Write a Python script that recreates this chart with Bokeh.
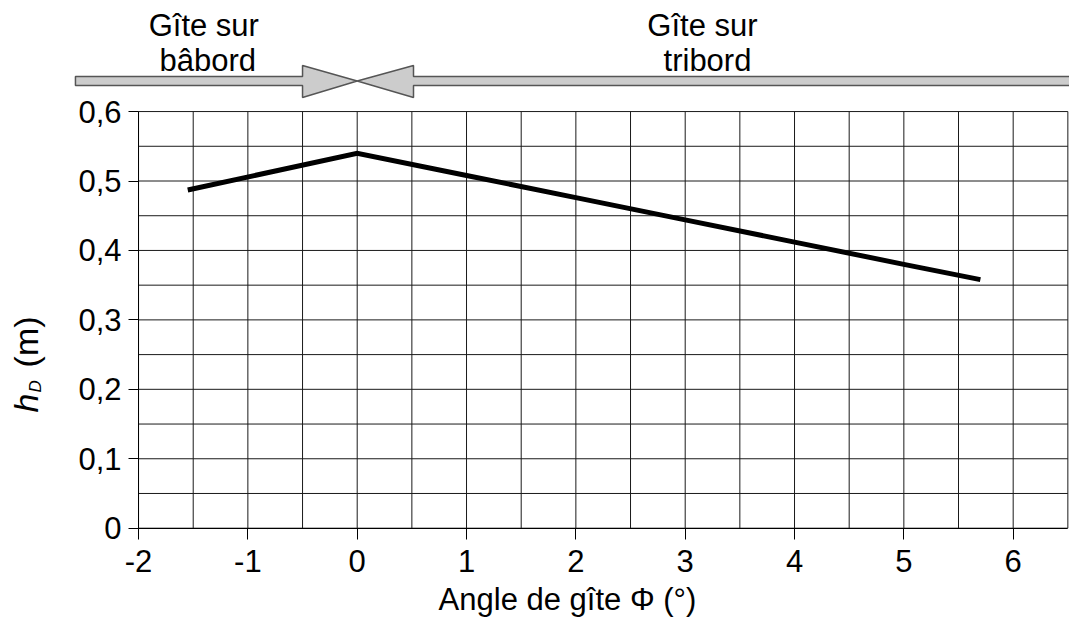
import math
from bokeh.plotting import figure
from bokeh.models import Range1d, FixedTicker
from bokeh.core.properties import value
from bokeh.embed import file_html
from bokeh.resources import INLINE

# ---- data ----
angle = [-1.55, 0.0, 1.0, 2.0, 3.0, 4.0, 5.0, 5.7]
h_D = [0.487, 0.540, 0.508, 0.476, 0.444, 0.412, 0.380, 0.358]

x_ticks = [-2, -1, 0, 1, 2, 3, 4, 5, 6]
x_tick_labels = ["-2", "-1", "0", "1", "2", "3", "4", "5", "6"]
y_ticks = [0, 0.1, 0.2, 0.3, 0.4, 0.5, 0.6]
y_tick_labels = ["0", "0,1", "0,2", "0,3", "0,4", "0,5", "0,6"]
x_grid = [-2, -1.5, -1, -0.5, 0, 0.5, 1, 1.5, 2, 2.5, 3, 3.5, 4, 4.5, 5, 5.5, 6, 6.5]
y_grid = [0, 0.05, 0.1, 0.15, 0.2, 0.25, 0.3, 0.35, 0.4, 0.45, 0.5, 0.55, 0.6]
x_limits = [-2, 6.5]
y_limits = [0, 0.6]

x_title = "Angle de gîte Φ (°)"
port_lines = ["Gîte sur", "bâbord"]
stbd_lines = ["Gîte sur", "tribord"]

FONT = "Liberation Sans"
W, H = 1069, 641
# page geometry of the data frame (pixels)
PX0, PXU = 356.7, 109.33   # x pixel of angle 0, pixels per degree
PY0, PYU = 527.7, 694.4    # y pixel of h=0, pixels per metre

x_range = Range1d(-PX0 / PXU, (W - PX0) / PXU)
y_range = Range1d(-(H - PY0) / PYU, PY0 / PYU)

p = figure(width=W, height=H, x_range=x_range, y_range=y_range, title=None,
           output_backend="svg", toolbar_location=None,
           min_border=0, min_border_left=0, min_border_right=0,
           min_border_top=0, min_border_bottom=0)
p.background_fill_color = "white"
p.border_fill_color = "white"
p.outline_line_color = None
p.xgrid.visible = False
p.ygrid.visible = False

# grid, limited to the chart area
p.segment(x0=x_grid, y0=[y_limits[0]] * len(x_grid), x1=x_grid, y1=[y_limits[1]] * len(x_grid),
          line_color="#1a1a1a", line_width=1)
p.segment(x0=[x_limits[0]] * len(y_grid), y0=y_grid, x1=[x_limits[1]] * len(y_grid), y1=y_grid,
          line_color="#1a1a1a", line_width=1)

# axes at fixed locations
p.xaxis.fixed_location = y_limits[0]
p.yaxis.fixed_location = x_limits[0]
p.xaxis.bounds = tuple(x_limits)
p.yaxis.bounds = tuple(y_limits)
p.xaxis.ticker = FixedTicker(ticks=x_ticks)
p.xaxis.major_label_overrides = {t_: l for t_, l in zip(x_ticks, x_tick_labels)}
p.yaxis.ticker = FixedTicker(ticks=y_ticks)
p.yaxis.major_label_overrides = {t_: l for t_, l in zip(y_ticks, y_tick_labels)}
for ax in (p.xaxis, p.yaxis):
    ax.axis_line_color = "black"
    ax.axis_line_width = 1
    ax.major_tick_line_color = "black"
    ax.major_tick_in = 0
    ax.minor_tick_in = 0
    ax.minor_tick_out = 0
    ax.major_label_text_font = FONT
    ax.major_label_text_font_size = "31px"
    ax.major_label_text_color = "black"
p.xaxis.major_tick_out = 11
p.xaxis.major_label_standoff = 11
p.yaxis.major_tick_out = 10
p.yaxis.major_label_standoff = 7

# data line
p.line(angle, h_D, line_width=5, line_color="black", line_join="miter", line_cap="butt")

# heel-direction arrows
s_lo, s_hi, h_lo, h_hi, mid = 0.6375, 0.6505, 0.6203, 0.6663, 0.644
L_start, L_base, tip, R_base, R_end = -2.577, -0.50, 0.0, 0.515, 6.7
xs = [[L_start, L_base, L_base, tip, L_base, L_base, L_start],
      [R_end, R_base, R_base, tip, R_base, R_base, R_end]]
ys = [[s_lo, s_lo, h_lo, mid, h_hi, s_hi, s_hi]] * 2
p.patches(xs=xs, ys=ys, fill_color="#cccccc", line_color="#555555", line_width=1.5)

p.text(x=[-1.403, -1.367], y=[0.7239, 0.6735], text=port_lines, text_font=value(FONT),
       text_font_size=value("31px"), text_align="center", text_baseline="alphabetic",
       text_color="black")
p.text(x=[3.158, 3.204], y=[0.7239, 0.6735], text=stbd_lines, text_font=value(FONT),
       text_font_size=value("31px"), text_align="center", text_baseline="alphabetic",
       text_color="black")

# axis titles
p.text(x=[1.923], y=[-0.1027], text=[x_title], text_font=value(FONT),
       text_font_size=value("31px"), text_align="center", text_baseline="alphabetic",
       text_color="black")
p.text(x=[-3.025], y=[0.1666], text=["h"], angle=math.pi / 2, text_font=value(FONT),
       text_font_style="italic", text_font_size=value("34px"), text_align="left",
       text_baseline="alphabetic", text_color="black")
p.text(x=[-2.939], y=[0.1954], text=["D"], angle=math.pi / 2, text_font=value(FONT),
       text_font_style="italic", text_font_size=value("17px"), text_align="left",
       text_baseline="alphabetic", text_color="black")
p.text(x=[-3.025], y=[0.2315], text=["(m)"], angle=math.pi / 2, text_font=value(FONT),
       text_font_size=value("34px"), text_align="left",
       text_baseline="alphabetic", text_color="black")

open("out.html", "w").write(file_html(p, INLINE))
